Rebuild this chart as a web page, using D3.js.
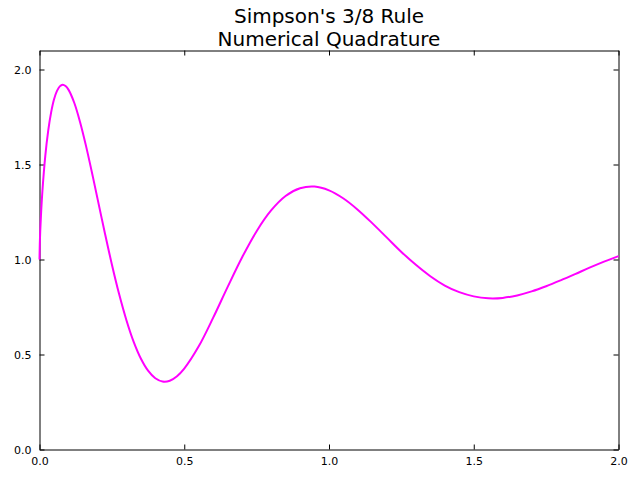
<!DOCTYPE html>
<html>
<head>
<meta charset="utf-8">
<script src="https://cdn.jsdelivr.net/npm/d3@7"></script>
<style>
  html, body { margin: 0; padding: 0; background: #fff; }
  svg { display: block; font-family: "DejaVu Sans", sans-serif; }
</style>
</head>
<body>
<svg id="chart" width="630" height="480"></svg>
<script>
const titleLines = ["Simpson's 3/8 Rule", "Numerical Quadrature"];
const xValues = [0.000, 0.001, 0.0025, 0.005, 0.01, 0.02, 0.03, 0.04, 0.05, 0.06, 0.07, 0.08, 0.09, 0.10, 0.12, 0.14, 0.16, 0.18, 0.20, 0.225, 0.25, 0.275, 0.30, 0.325, 0.35, 0.375, 0.40, 0.425, 0.45, 0.475, 0.50, 0.55, 0.60, 0.65, 0.70, 0.75, 0.80, 0.85, 0.90, 0.95, 1.00, 1.05, 1.10, 1.15, 1.20, 1.25, 1.30, 1.35, 1.40, 1.45, 1.50, 1.55, 1.60, 1.65, 1.70, 1.75, 1.80, 1.85, 1.90, 1.95, 2.00];
const yValues = [1.000, 1.080, 1.147, 1.231, 1.359, 1.545, 1.677, 1.773, 1.842, 1.886, 1.911, 1.920, 1.913, 1.894, 1.825, 1.724, 1.602, 1.466, 1.323, 1.145, 0.974, 0.818, 0.682, 0.568, 0.479, 0.415, 0.375, 0.358, 0.362, 0.386, 0.426, 0.543, 0.694, 0.856, 1.012, 1.149, 1.258, 1.334, 1.375, 1.384, 1.364, 1.321, 1.261, 1.190, 1.115, 1.040, 0.972, 0.912, 0.863, 0.828, 0.806, 0.796, 0.798, 0.811, 0.832, 0.859, 0.890, 0.923, 0.957, 0.989, 1.018];
const xTicks = [0.0, 0.5, 1.0, 1.5, 2.0];
const yTicks = [0.0, 0.5, 1.0, 1.5, 2.0];

const data = xValues.map((x, i) => ({x, y: yValues[i]}));

const svg = d3.select("#chart");
const plotLeft = 39.5, plotRight = 618.5, plotTop = 50.5, plotBottom = 449.5;

const x = d3.scaleLinear().domain([0, 2]).range([plotLeft, plotRight]);
const y = d3.scaleLinear().domain([0, 2.1]).range([plotBottom, plotTop]);

const tickLen = 5;
const fmt = d3.format(".1f");

const axB = d3.axisBottom(x).tickValues(xTicks).tickFormat(fmt).tickSizeInner(-tickLen).tickSizeOuter(0).tickPadding(8);
const axT = d3.axisTop(x).tickValues(xTicks).tickFormat("").tickSizeInner(-tickLen).tickSizeOuter(0);
const axL = d3.axisLeft(y).tickValues(yTicks).tickFormat(fmt).tickSizeInner(-tickLen).tickSizeOuter(0).tickPadding(8);
const axR = d3.axisRight(y).tickValues(yTicks).tickFormat("").tickSizeInner(-tickLen).tickSizeOuter(0);

function style(g) {
  g.selectAll("path.domain").attr("stroke", "#000").attr("stroke-width", 1);
  g.selectAll(".tick line").attr("stroke", "#000").attr("stroke-width", 1);
  g.selectAll(".tick text").attr("fill", "#000").style("font-size", "11px").style("font-family", "DejaVu Sans, sans-serif");
}

svg.append("g").attr("transform", `translate(0,${plotBottom})`).call(axB).call(style);
svg.append("g").attr("transform", `translate(0,${plotTop})`).call(axT).call(style);
svg.append("g").attr("transform", `translate(${plotLeft},0)`).call(axL).call(style);
svg.append("g").attr("transform", `translate(${plotRight},0)`).call(axR).call(style);

const line = d3.line().x(d => x(d.x)).y(d => y(d.y)).curve(d3.curveCatmullRom.alpha(0.5));
svg.append("path").datum(data)
  .attr("fill", "none").attr("stroke", "#ff00ff").attr("stroke-width", 2)
  .attr("stroke-linejoin", "round")
  .attr("d", line);

// title: two lines
const tcx = (plotLeft + plotRight) / 2;
const titleY = [22.8, 46.4];
titleLines.forEach((t, i) => {
  svg.append("text").attr("x", tcx).attr("y", titleY[i]).attr("text-anchor", "middle")
    .style("font-size", "20px").attr("fill", "#000").text(t);
});
</script>
</body>
</html>
